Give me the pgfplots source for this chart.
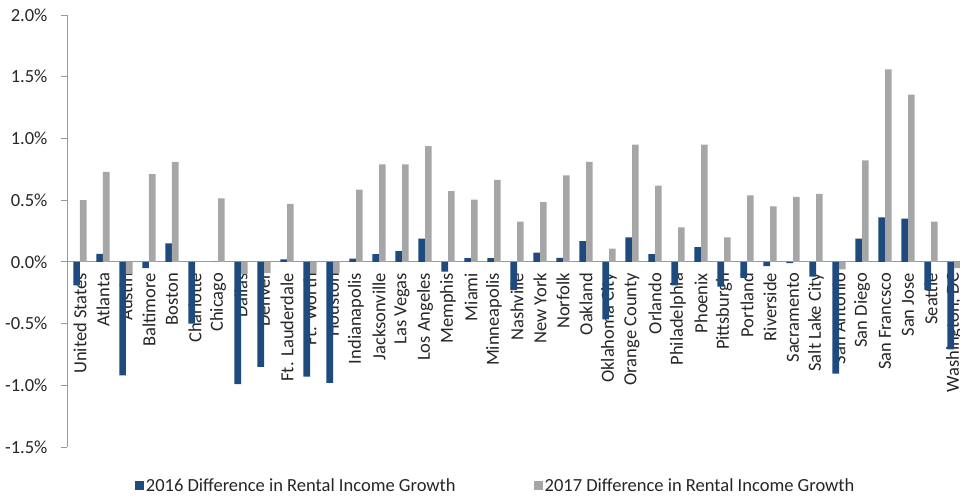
\documentclass[border=0pt]{standalone}
\usepackage{pgfplots}
\pgfplotsset{compat=1.18}
\usepackage{fontspec}
\setmainfont{Carlito}
\definecolor{bblue}{HTML}{1F4A7D}
\definecolor{bgray}{HTML}{A6A6A6}
\definecolor{axgray}{HTML}{9A9A9A}
\definecolor{txt}{HTML}{262626}
\begin{document}
\begin{tikzpicture}
\begin{axis}[
  name=ax,
  scale only axis,
  width=893pt, height=432pt,
  xmin=-0.565, xmax=38.26,
  ymin=-1.5, ymax=2.0,
  axis x line=middle,
  axis y line=left,
  axis line style={-, axgray, line width=0.9pt},
  hide obscured x ticks=false,
  hide obscured y ticks=false,
  ybar=0pt,
  bar width=0.285,
  clip=true,
  xtick={0,...,38},
  xticklabels={United States,Atlanta,Austin,Baltimore,Boston,Charlotte,Chicago,Dallas,Denver,Ft. Lauderdale,Ft. Worth,Houston,Indianapolis,Jacksonville,Las Vegas,Los Angeles,Memphis,Miami,Minneapolis,Nashville,New York,Norfolk,Oakland,Oklahoma City,Orange County,Orlando,Philadelphia,Phoenix,Pittsburgh,Portland,Riverside,Sacramento,Salt Lake City,San Antonio,San Diego,San Francsco,San Jose,Seattle,{Washington, DC}},
  x tick style={draw=none},
  minor xtick={-0.5,0.5,...,38.5},
  minor x tick style={axgray, line width=0.9pt},
  minor tick length=6pt,
  xtick align=outside,
  xticklabel style={rotate=90, anchor=east, font=\fontsize{18.5}{21}\selectfont, text=txt, inner sep=5pt},
  ytick={-1.5,-1,...,2},
  ytick align=outside,
  y tick style={axgray, line width=0.9pt},
  major tick length=6pt,
  yticklabel={\pgfmathprintnumber[fixed,fixed zerofill,precision=1,assume math mode=true]{\tick}\%},
  yticklabel style={font=\fontsize{18.5}{21}\selectfont, text=txt, xshift=-10pt},
  legend style={draw=none, at={(axis description cs:0.48,-0.09)}, anchor=center,
    legend columns=2, font=\fontsize{18.5}{21}\selectfont, text=txt,
    /tikz/every even column/.append style={column sep=76pt}},
  legend image code/.code={\fill[#1] (0pt,-4.5pt) rectangle (9pt,4.5pt);},
]
\addplot[fill=bblue, draw=none] coordinates {
(0,-0.19) (1,0.065) (2,-0.92) (3,-0.05) (4,0.15) (5,-0.50) (6,0.0) (7,-0.99) (8,-0.85) (9,0.02)
(10,-0.93) (11,-0.98) (12,0.027) (13,0.062) (14,0.086) (15,0.188) (16,-0.08) (17,0.03) (18,0.03) (19,-0.23)
(20,0.075) (21,0.032) (22,0.167) (23,-0.465) (24,0.199) (25,0.062) (26,-0.19) (27,0.12) (28,-0.20) (29,-0.13)
(30,-0.035) (31,-0.01) (32,-0.12) (33,-0.906) (34,0.188) (35,0.36) (36,0.35) (37,-0.23) (38,-0.71)
};
\addlegendentry{2016 Difference in Rental Income Growth}
\addplot[fill=bgray, draw=none] coordinates {
(0,0.50) (1,0.73) (2,-0.10) (3,0.71) (4,0.81) (5,0.0) (6,0.515) (7,-0.10) (8,-0.09) (9,0.47)
(10,-0.09) (11,-0.09) (12,0.585) (13,0.79) (14,0.79) (15,0.938) (16,0.573) (17,0.505) (18,0.664) (19,0.325)
(20,0.484) (21,0.70) (22,0.81) (23,0.107) (24,0.949) (25,0.618) (26,0.28) (27,0.949) (28,0.199) (29,0.538)
(30,0.449) (31,0.527) (32,0.551) (33,-0.06) (34,0.823) (35,1.56) (36,1.355) (37,0.325) (38,-0.05)
};
\addlegendentry{2017 Difference in Rental Income Growth}
\end{axis}
\pgfresetboundingbox
\path ([xshift=-67pt,yshift=-51pt]ax.south west) rectangle ([xshift=893pt,yshift=447pt]ax.south west);
\end{tikzpicture}
\end{document}
